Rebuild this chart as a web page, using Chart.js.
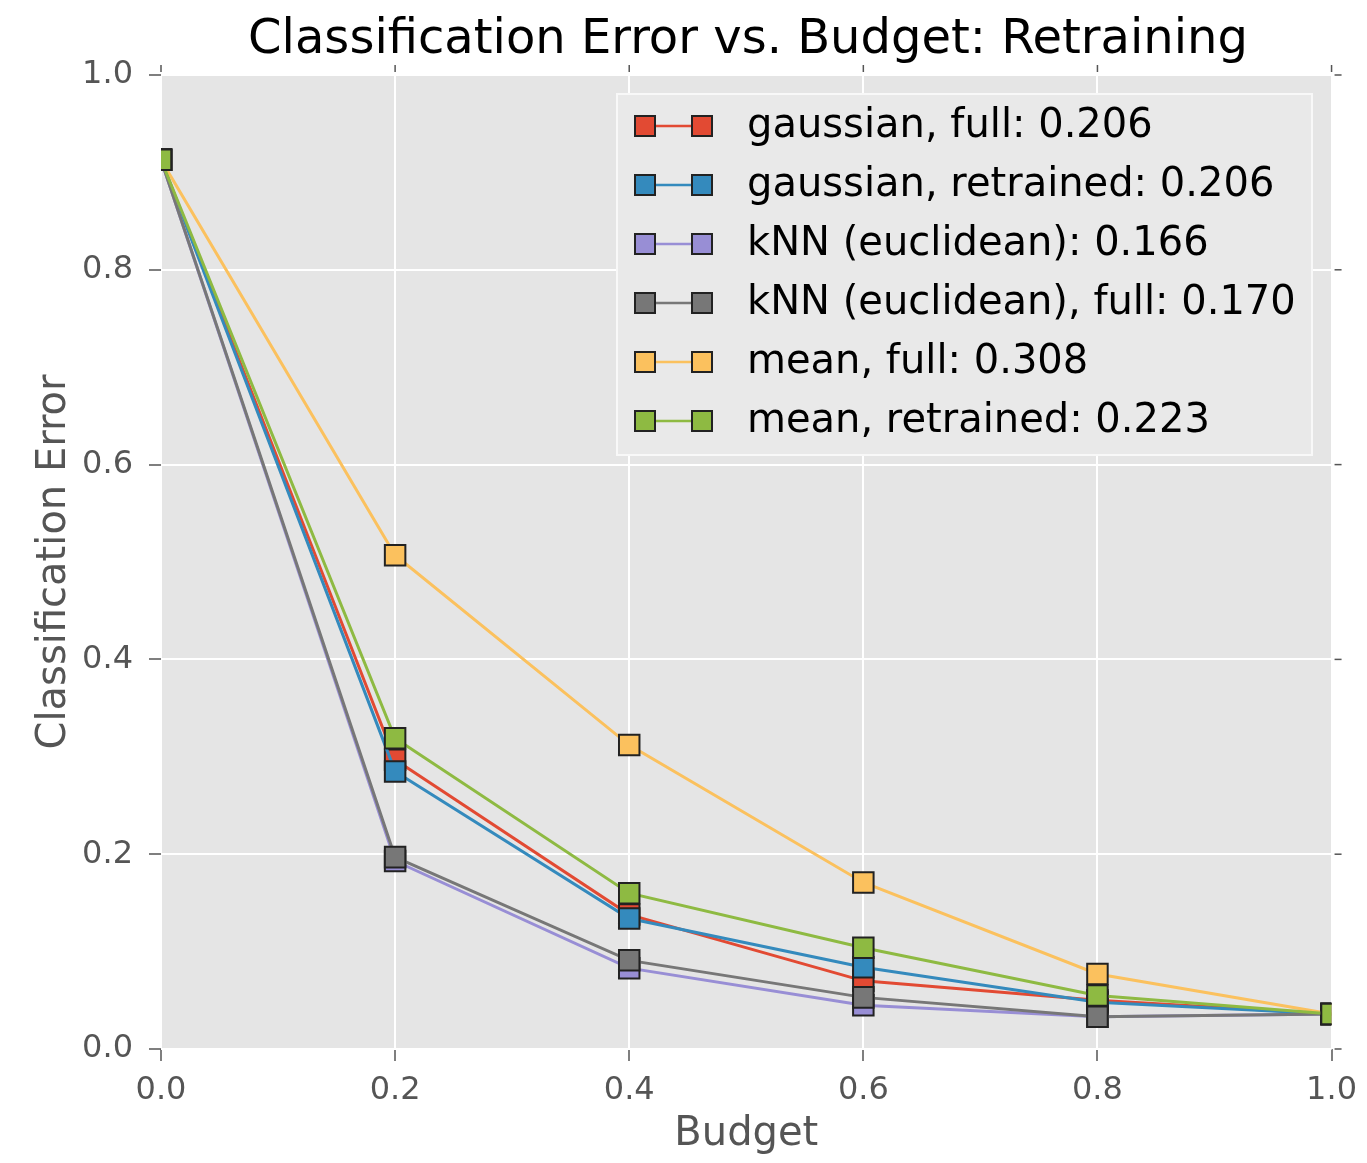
<!DOCTYPE html>
<html>
<head>
<meta charset="utf-8">
<script src="https://cdn.jsdelivr.net/npm/chart.js@4.4.1/dist/chart.umd.min.js"></script>
<style>
  html, body { margin: 0; padding: 0; background: #fff; }
  #wrap { width: 1367px; height: 1163px; }
</style>
</head>
<body>
<div id="wrap"><canvas id="myChart" width="1367" height="1163"></canvas></div>
<script>
// budget values on the x axis
const budgets = [0.0, 0.2, 0.4, 0.6, 0.8, 1.0];

// classification error per method
const gaussianFull = [0.913, 0.297, 0.138, 0.070, 0.050, 0.036];
const gaussianRetrained = [0.913, 0.285, 0.134, 0.084, 0.048, 0.036];
const knnEuclid = [0.913, 0.193, 0.083, 0.045, 0.033, 0.036];
const knnEuclidFull = [0.913, 0.197, 0.091, 0.053, 0.033, 0.036];
const meanFull = [0.913, 0.507, 0.312, 0.171, 0.077, 0.036];
const meanRetrained = [0.913, 0.319, 0.160, 0.104, 0.055, 0.036];

const labels = [
  'gaussian, full: 0.206',
  'gaussian, retrained: 0.206',
  'kNN (euclidean): 0.166',
  'kNN (euclidean), full: 0.170',
  'mean, full: 0.308',
  'mean, retrained: 0.223'
];
const colors = ['#E24A33', '#348ABD', '#988ED5', '#777777', '#FBC15E', '#8EBA42'];
const series = [gaussianFull, gaussianRetrained, knnEuclid, knnEuclidFull, meanFull, meanRetrained];

const tickVals = [0, 0.2, 0.4, 0.6, 0.8, 1.0];

const datasets = series.map((vals, i) => ({
  label: labels[i],
  data: vals.map((v, j) => ({ x: budgets[j], y: v })),
  borderColor: colors[i],
  backgroundColor: colors[i],
  borderWidth: 3,
  pointStyle: 'rect',
  pointRadius: 14.5,
  pointHoverRadius: 14.5,
  pointBorderColor: '#222',
  pointBorderWidth: 2,
  pointBackgroundColor: colors[i],
  tension: 0,
  clip: 0,
  order: series.length - i
}));

// grey panel behind the plot
const panelBg = {
  id: 'panelBg',
  beforeDraw(chart) {
    const { ctx, chartArea: a } = chart;
    ctx.save();
    ctx.fillStyle = '#E5E5E5';
    ctx.fillRect(a.left, a.top, a.right - a.left, a.bottom - a.top);
    ctx.restore();
  }
};

// markers at the edges get cut by the panel, like matplotlib does
const clipPanel = {
  id: 'clipPanel',
  beforeDatasetsDraw(chart) {
    const { ctx, chartArea: a } = chart;
    ctx.save();
    ctx.beginPath();
    ctx.rect(a.left, a.top, a.right - a.left, a.bottom - a.top);
    ctx.clip();
  },
  afterDatasetsDraw(chart) {
    chart.ctx.restore();
  }
};

// ticks on top and right, title, legend box
const extras = {
  id: 'extras',
  afterDraw(chart) {
    const { ctx, chartArea: a } = chart;
    const xs = chart.scales.x, ys = chart.scales.y;
    ctx.save();
    ctx.strokeStyle = '#555';
    ctx.lineWidth = 1.5;
    tickVals.forEach(v => {
      const px = xs.getPixelForValue(v);
      ctx.beginPath(); ctx.moveTo(px, a.top - 3); ctx.lineTo(px, a.top - 10); ctx.stroke();
      const py = ys.getPixelForValue(v);
      ctx.beginPath(); ctx.moveTo(a.right + 3, py); ctx.lineTo(a.right + 10, py); ctx.stroke();
    });

    // title
    ctx.fillStyle = '#000';
    ctx.font = '48px "DejaVu Sans"';
    ctx.textAlign = 'center';
    ctx.textBaseline = 'middle';
    ctx.fillText('Classification Error vs. Budget: Retraining', 748, 41);

    // legend
    const bx = 617, by = 94, bw = 695, bh = 361;
    ctx.fillStyle = '#E9E9E9';
    ctx.fillRect(bx, by, bw, bh);
    ctx.strokeStyle = '#F8F8F8';
    ctx.lineWidth = 2;
    ctx.strokeRect(bx, by, bw, bh);
    ctx.font = '40px "DejaVu Sans"';
    ctx.textAlign = 'left';
    labels.forEach((lab, i) => {
      const y = 126 + i * 59;
      ctx.strokeStyle = colors[i];
      ctx.lineWidth = 2.5;
      ctx.beginPath(); ctx.moveTo(645, y); ctx.lineTo(702, y); ctx.stroke();
      [645, 702].forEach(cx => {
        ctx.fillStyle = colors[i];
        ctx.fillRect(cx - 10, y - 10, 20, 20);
        ctx.strokeStyle = '#222';
        ctx.lineWidth = 2;
        ctx.strokeRect(cx - 10, y - 10, 20, 20);
      });
      ctx.fillStyle = '#000';
      ctx.fillText(lab, 747, y + 1);
    });
    ctx.restore();
  }
};

const ctx = document.getElementById('myChart').getContext('2d');
const myChart = new Chart(ctx, {
  type: 'line',
  data: { datasets: datasets },
  options: {
    responsive: false,
    animation: false,
    events: [],
    layout: { padding: { top: 75, right: 35, left: 0, bottom: 0 } },
    plugins: {
      legend: { display: false },
      title: { display: false },
      tooltip: { enabled: false }
    },
    scales: {
      x: {
        type: 'linear',
        min: 0,
        max: 1,
        afterFit: s => { s.height = 114; },
        afterBuildTicks: s => { s.ticks = tickVals.map(v => ({ value: v })); },
        grid: { color: '#FFFFFF', lineWidth: 2, tickColor: '#555', tickLength: 12, tickWidth: 1.5 },
        border: { display: false },
        ticks: {
          color: '#555',
          font: { family: 'DejaVu Sans', size: 32 },
          padding: 10,
          maxRotation: 0,
          callback: v => v.toFixed(1)
        },
        title: {
          display: true,
          text: 'Budget',
          color: '#555',
          font: { family: 'DejaVu Sans', size: 40 },
          padding: { top: 0, bottom: 4 }
        }
      },
      y: {
        type: 'linear',
        min: 0,
        max: 1,
        afterFit: s => { s.width = 161; },
        afterBuildTicks: s => { s.ticks = tickVals.map(v => ({ value: v })); },
        grid: { color: '#FFFFFF', lineWidth: 2, tickColor: '#555', tickLength: 12, tickWidth: 1.5 },
        border: { display: false },
        ticks: {
          color: '#555',
          font: { family: 'DejaVu Sans', size: 32 },
          padding: 16,
          callback: v => v.toFixed(1)
        },
        title: {
          display: true,
          text: 'Classification Error',
          color: '#555',
          font: { family: 'DejaVu Sans', size: 40 },
          padding: { top: 31, bottom: 0 }
        }
      }
    }
  },
  plugins: [panelBg, clipPanel, extras]
});
</script>
</body>
</html>
